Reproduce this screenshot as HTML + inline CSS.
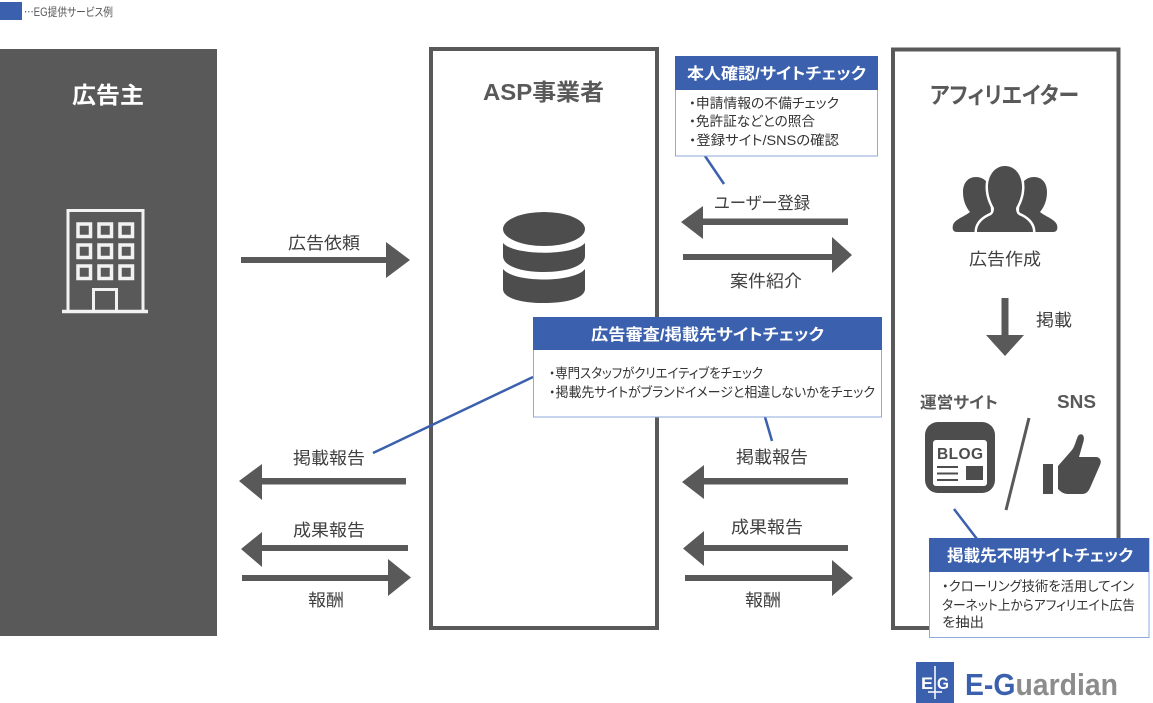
<!DOCTYPE html>
<html lang="ja">
<head>
<meta charset="utf-8">
<style>
html,body{margin:0;padding:0;background:#fff;width:1153px;height:703px;overflow:hidden}
svg{display:block}
text{font-family:"Liberation Sans","Noto Sans CJK JP",sans-serif;font-feature-settings:"palt"}
.l{font-size:17px;fill:#404040}
.t{font-size:23px;font-weight:700;fill:#595959}
.h{font-size:16px;font-weight:700;fill:#fff}
.b{font-size:13.5px;fill:#333}
</style>
</head>
<body>
<svg width="1153" height="703" viewBox="0 0 1153 703" xmlns="http://www.w3.org/2000/svg">
<rect width="1153" height="703" fill="#fff"/>
<!-- legend -->
<rect x="0" y="2" width="22" height="18" fill="#3b60ad"/>
<text x="24" y="16" font-size="11.500" fill="#555" textLength="89" lengthAdjust="spacingAndGlyphs"><tspan style="font-family:'Noto Sans CJK JP',sans-serif">…</tspan>EG提供サービス例</text>

<!-- panels -->
<rect x="0" y="49" width="217" height="587" fill="#595959"/>
<text x="72" y="103" font-size="23" font-weight="700" fill="#fff" textLength="72" lengthAdjust="spacingAndGlyphs">広告主</text>
<rect x="431" y="49" width="226" height="579" fill="#fff" stroke="#595959" stroke-width="4"/>
<text class="t" x="483" y="100" textLength="121" lengthAdjust="spacingAndGlyphs">ASP事業者</text>
<rect x="893" y="49.500" width="225.500" height="578.500" fill="#fff" stroke="#595959" stroke-width="4"/>
<text class="t" x="930" y="103" textLength="149" lengthAdjust="spacingAndGlyphs">アフィリエイター</text>

<!-- building -->
<g fill="none" stroke="#f2f2f2">
<path d="M68 311V210.500H143V311" stroke-width="3"/>
<path d="M62 311.500H148" stroke-width="3.500"/>
<g stroke-width="3.500">
<rect x="78" y="224" width="12.500" height="12.500"/><rect x="99" y="224" width="12.500" height="12.500"/><rect x="120" y="224" width="12.500" height="12.500"/>
<rect x="78" y="245" width="12.500" height="12.500"/><rect x="99" y="245" width="12.500" height="12.500"/><rect x="120" y="245" width="12.500" height="12.500"/>
<rect x="78" y="266" width="12.500" height="12.500"/><rect x="99" y="266" width="12.500" height="12.500"/><rect x="120" y="266" width="12.500" height="12.500"/>
</g>
<path d="M93.500 310V289.500H116.500V310" stroke-width="3"/>
</g>

<!-- database -->
<g fill="#4d4d4d">
<path d="M503 269C514 283 574 283 585 269V289C585 298 567 303 544 303S503 298 503 289Z"/>
<path d="M503 243C514 256 574 256 585 243V256C585 266 567 272 544 272S503 266 503 256Z"/>
<ellipse cx="544" cy="229" rx="41" ry="17"/>
</g>

<!-- arrows -->
<g fill="#595959">
<path d="M241 257H386V242L410 260L386 278V263H241Z"/>
<path d="M848 218.500H703V206L681 222L703 239V225H848Z"/>
<path d="M683 254H832V237L852 255L832 273V260H683Z"/>
<path d="M1001.500 298H1008.500V335H1024L1005 356L986 335H1001.500Z"/>
<path d="M406 478H262V464L239 481L262 500V484.500H406Z"/>
<path d="M408 545H262V532L241 549L262 567V551H408Z"/>
<path d="M242 575H388V559L411 577.500L388 596V581H242Z"/>
<path d="M848 478H704V465L682 482L704 499V484.500H848Z"/>
<path d="M848 545H704V531L683 548.500L704 566V551H848Z"/>
<path d="M685 575H832V560L853 578L832 596V581H685Z"/>
</g>

<!-- labels -->
<text class="l" x="288" y="249" textLength="72" lengthAdjust="spacingAndGlyphs">広告依頼</text>
<text class="l" x="714" y="209" textLength="96" lengthAdjust="spacingAndGlyphs">ユーザー登録</text>
<text class="l" x="730" y="287" textLength="72" lengthAdjust="spacingAndGlyphs">案件紹介</text>
<text class="l" x="969" y="265" textLength="72" lengthAdjust="spacingAndGlyphs">広告作成</text>
<text class="l" x="1036" y="326" textLength="36" lengthAdjust="spacingAndGlyphs">掲載</text>
<text class="l" x="293" y="464" textLength="72" lengthAdjust="spacingAndGlyphs">掲載報告</text>
<text class="l" x="293" y="536" textLength="72" lengthAdjust="spacingAndGlyphs">成果報告</text>
<text class="l" x="308" y="606" textLength="36" lengthAdjust="spacingAndGlyphs">報酬</text>
<text class="l" x="736" y="463" textLength="72" lengthAdjust="spacingAndGlyphs">掲載報告</text>
<text class="l" x="731" y="533" textLength="72" lengthAdjust="spacingAndGlyphs">成果報告</text>
<text class="l" x="745" y="606" textLength="36" lengthAdjust="spacingAndGlyphs">報酬</text>
<text x="920" y="408" font-size="16" font-weight="700" fill="#595959" textLength="78" lengthAdjust="spacingAndGlyphs">運営サイト</text>
<text x="1057" y="408" font-size="18" font-weight="700" fill="#595959" textLength="39" lengthAdjust="spacingAndGlyphs">SNS</text>

<!-- people -->
<g fill="#4d4d4d">
<path d="M976 177C984 177 990 183 990 192L992 232H957C953 232 952 229 953 225C955 219 964 217 970 212C965 206 963 199 963 192C963 183 968 177 976 177Z"/>
<path d="M1034 177C1026 177 1020 183 1020 192L1018 232H1053C1057 232 1058 229 1057 225C1055 219 1046 217 1040 212C1045 206 1047 199 1047 192C1047 183 1042 177 1034 177Z"/>
<path d="M1005 166C1015 166 1022 175 1022 187C1022 197 1018 204 1016 208C1016 213 1018 215 1021 216C1027 219 1033 224 1033 232H977C977 224 983 219 989 216C992 215 994 213 994 208C992 204 988 197 988 187C988 175 995 166 1005 166Z" stroke="#fff" stroke-width="5" paint-order="stroke"/>
</g>

<!-- blog icon -->
<rect x="925" y="422" width="70" height="71" rx="13" fill="#4d4d4d"/>
<rect x="933" y="440" width="54" height="46" rx="3" fill="#fff"/>
<text x="937" y="459" font-size="15.500" font-weight="700" fill="#4d4d4d" textLength="46" lengthAdjust="spacing">BLOG</text>
<rect x="966" y="466" width="17" height="14" fill="#4d4d4d"/>
<path d="M937 467H958M937 473.500H958M937 480H958" stroke="#4d4d4d" stroke-width="2"/>

<!-- slash -->
<path d="M1029 418L1006 510" stroke="#595959" stroke-width="3"/>

<!-- thumb -->
<g fill="#4d4d4d">
<rect x="1043" y="464" width="10" height="30"/>
<path d="M1058 466L1072 450C1075 446 1076 440 1078 436C1081 432 1086 435 1083 443L1079 457H1096C1100 457 1102 461 1100 465L1090 488C1088 492 1086 494 1082 494H1068C1063 494 1060 491 1058 489Z"/>
</g>

<!-- connectors -->
<g stroke="#3b60ad" stroke-width="2.500" fill="none">
<path d="M705 156L724 184"/>
<path d="M533 377L373 453"/>
<path d="M765 417L772 441"/>
<path d="M954 509L977 539"/>
</g>

<!-- callout 1 -->
<rect x="675.500" y="56.500" width="202" height="99.500" fill="#fff" stroke="#8faadc"/>
<rect x="675" y="56" width="203" height="34" fill="#3b60ad"/>
<text class="h" x="687" y="79" textLength="179" lengthAdjust="spacingAndGlyphs">本人確認/サイトチェック</text>
<text class="b" x="689" y="108" textLength="150" lengthAdjust="spacingAndGlyphs">・申請情報の不備チェック</text>
<text class="b" x="689" y="126" textLength="126" lengthAdjust="spacingAndGlyphs">・免許証などとの照合</text>
<text class="b" x="689" y="145" textLength="150" lengthAdjust="spacingAndGlyphs">・登録サイト/SNSの確認</text>

<!-- callout 2 -->
<rect x="533.500" y="317.500" width="348" height="99.500" fill="#fff" stroke="#8faadc"/>
<rect x="533" y="317" width="349" height="33" fill="#3b60ad"/>
<text class="h" x="591" y="340" textLength="233" lengthAdjust="spacingAndGlyphs">広告審査/掲載先サイトチェック</text>
<text class="b" x="549" y="378" textLength="214" lengthAdjust="spacingAndGlyphs">・専門スタッフがクリエイティブをチェック</text>
<text class="b" x="549" y="397" textLength="326" lengthAdjust="spacingAndGlyphs">・掲載先サイトがブランドイメージと相違しないかをチェック</text>

<!-- callout 3 -->
<rect x="929.500" y="538.500" width="219.500" height="99" fill="#fff" stroke="#8faadc"/>
<rect x="929" y="538" width="220" height="34" fill="#3b60ad"/>
<text class="h" x="947" y="561" textLength="186" lengthAdjust="spacingAndGlyphs">掲載先不明サイトチェック</text>
<text class="b" x="942" y="591" textLength="192" lengthAdjust="spacingAndGlyphs">・クローリング技術を活用してイン</text>
<text class="b" x="942" y="610" textLength="193" lengthAdjust="spacingAndGlyphs">ターネット上からアフィリエイト広告</text>
<text class="b" x="942" y="627" textLength="42" lengthAdjust="spacingAndGlyphs">を抽出</text>

<!-- logo -->
<rect x="916" y="662" width="38" height="41" fill="#3b60ad"/>
<path d="M935 666V699M928 692H942" stroke="#fff" stroke-width="1.500" fill="none"/>
<text x="921" y="689" font-size="17" font-weight="700" fill="#fff" textLength="12" lengthAdjust="spacingAndGlyphs">E</text>
<text x="937" y="689" font-size="17" font-weight="700" fill="#fff" textLength="12" lengthAdjust="spacingAndGlyphs">G</text>
<text x="965" y="695" font-size="31" font-weight="700" fill="#3b60ad" textLength="153" lengthAdjust="spacingAndGlyphs">E-G<tspan fill="#8c8c8c">uardian</tspan></text>
</svg>
</body>
</html>
